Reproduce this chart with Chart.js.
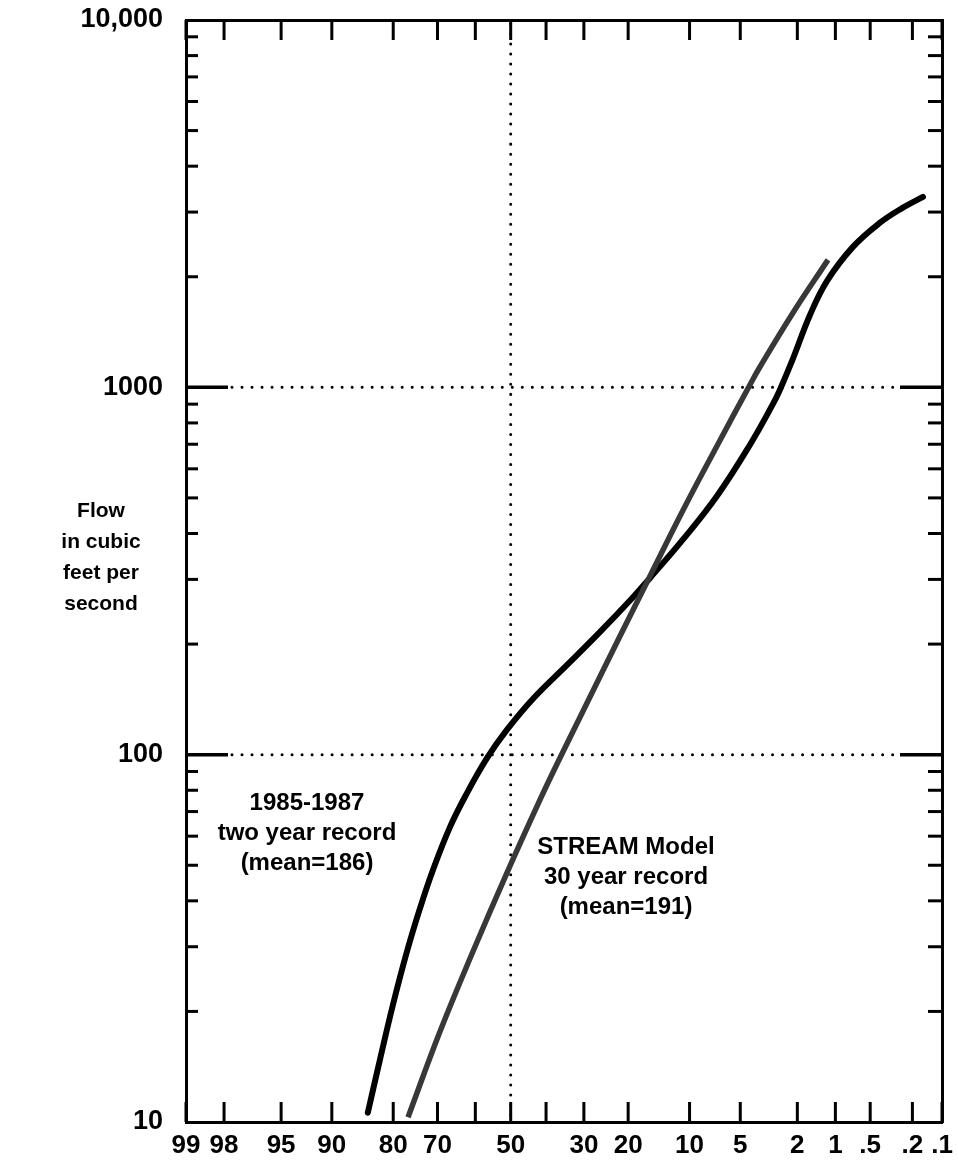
<!DOCTYPE html>
<html>
<head>
<meta charset="utf-8">
<script src="https://cdn.jsdelivr.net/npm/chart.js@4.4.1/dist/chart.umd.min.js"></script>
<style>
  html, body { margin: 0; padding: 0; background: #fff; }
</style>
</head>
<body>
<canvas id="flowChart" width="958" height="1163"></canvas>
<script>
// exceedance probability (%) - labelled ticks and all tick marks
const probLabels = [99, 98, 95, 90, 80, 70, 50, 30, 20, 10, 5, 2, 1, 0.5, 0.2, 0.1];
const probLabelText = ['99', '98', '95', '90', '80', '70', '50', '30', '20', '10', '5', '2', '1', '.5', '.2', '.1'];
const probTicks = [99, 98, 95, 90, 80, 70, 60, 50, 40, 30, 20, 10, 5, 2, 1, 0.5, 0.2, 0.1];

// flow (cfs) axis
const flowLabels = [10, 100, 1000, 10000];
const flowLabelText = ['10', '100', '1000', '10,000'];
const flowMinor = [20, 30, 40, 50, 60, 70, 80, 90, 200, 300, 400, 500, 600, 700, 800, 900,
                   2000, 3000, 4000, 5000, 6000, 7000, 8000, 9000];
const refFlows = [100, 1000];
const refPct = [50];

// 1985-1987 two year record
const recordPct = [84.7, 82.5, 80.0, 77.1, 74.2, 71.1, 66.8, 62.3, 56.7, 51.1, 43.7, 34.3, 26.1,
                   19.0, 15.9, 10.9, 6.97, 4.33, 3.01, 2.69, 2.16, 1.60, 1.17, 0.71, 0.41, 0.25, 0.157];
const recordFlow = [10.6, 14.9, 21.0, 29.2, 38.2, 48.6, 63.6, 78.6, 98.0, 116.8, 141.8, 175.5, 215.9,
                    268.8, 302.8, 384.2, 506.2, 696.9, 901.3, 983.8, 1195, 1574, 1949, 2412, 2802, 3079, 3299];

// STREAM model 30 year record
const modelPct = [76.9, 69.4, 60.6, 51.1, 41.7, 37.0, 30.2, 22.3, 15.9, 10.9, 6.97, 4.33, 3.71, 2.16, 1.15];
const modelFlow = [10.3, 17.6, 29.2, 47.6, 75.3, 94.3, 131.5, 202.7, 306.6, 460.9, 692.6, 1015, 1136, 1594, 2223];

// inverse normal cdf (Acklam) - probability paper transform
function probit(p) {
    const a = [-3.969683028665376e+01, 2.209460984245205e+02, -2.759285104469687e+02, 1.383577518672690e+02, -3.066479806614716e+01, 2.506628277459239e+00];
    const b = [-5.447609879822406e+01, 1.615858368580409e+02, -1.556989798598866e+02, 6.680131188771972e+01, -1.328068155288572e+01];
    const c = [-7.784894002430293e-03, -3.223964580411365e-01, -2.400758277161838e+00, -2.549732539343734e+00, 4.374664141464968e+00, 2.938163982698783e+00];
    const d = [7.784695709041462e-03, 3.224671290700398e-01, 2.445134137142996e+00, 3.754408661907416e+00];
    const pl = 0.02425;
    if (p < pl) {
        const q = Math.sqrt(-2 * Math.log(p));
        return (((((c[0]*q+c[1])*q+c[2])*q+c[3])*q+c[4])*q+c[5]) / ((((d[0]*q+d[1])*q+d[2])*q+d[3])*q+1);
    }
    if (p > 1 - pl) {
        const q = Math.sqrt(-2 * Math.log(1 - p));
        return -(((((c[0]*q+c[1])*q+c[2])*q+c[3])*q+c[4])*q+c[5]) / ((((d[0]*q+d[1])*q+d[2])*q+d[3])*q+1);
    }
    const q = p - 0.5, r = q * q;
    return (((((a[0]*r+a[1])*r+a[2])*r+a[3])*r+a[4])*r+a[5])*q / (((((b[0]*r+b[1])*r+b[2])*r+b[3])*r+b[4])*r+1);
}
const toZ = pct => probit(1 - pct / 100);
const pts = (pcts, flows) => pcts.map((p, i) => ({ x: toZ(p), y: flows[i] }));

const FONT = 'Liberation Sans, Arial, Helvetica, sans-serif';
const xMin = toZ(99), xMax = toZ(0.1);

function seg(ctx, x1, y1, x2, y2) {
    ctx.beginPath();
    ctx.moveTo(x1, y1);
    ctx.lineTo(x2, y2);
    ctx.stroke();
}

const frameMarks = {
    id: 'frameMarks',
    beforeDatasetsDraw(chart) {
        const { ctx, chartArea: a, scales: { x, y } } = chart;
        ctx.save();
        ctx.strokeStyle = '#000';

        // dotted reference lines
        ctx.lineWidth = 3;
        ctx.lineCap = 'round';
        ctx.setLineDash([0.01, 10]);
        refFlows.forEach(v => {
            const py = y.getPixelForValue(v);
            seg(ctx, a.left + 46, py, a.right - 46, py);
        });
        refPct.forEach(p => {
            const px = x.getPixelForValue(toZ(p));
            seg(ctx, px, a.top + 4, px, a.bottom - 4);
        });
        ctx.setLineDash([]);
        ctx.lineCap = 'butt';

        // probability ticks, top and bottom, pointing inward
        ctx.lineWidth = 3;
        probTicks.forEach(p => {
            const px = x.getPixelForValue(toZ(p));
            seg(ctx, px, a.bottom, px, a.bottom - 20);
            seg(ctx, px, a.top, px, a.top + 20);
        });

        // flow ticks
        flowMinor.forEach(v => {
            const py = y.getPixelForValue(v);
            seg(ctx, a.left, py, a.left + 12, py);
            seg(ctx, a.right, py, a.right - 14, py);
        });
        ctx.lineWidth = 3.5;
        refFlows.forEach(v => {
            const py = y.getPixelForValue(v);
            seg(ctx, a.left, py, a.left + 42, py);
            seg(ctx, a.right, py, a.right - 42, py);
        });
        ctx.restore();
    },
    afterDraw(chart) {
        const { ctx } = chart;
        ctx.save();
        ctx.fillStyle = '#000';
        ctx.textAlign = 'center';
        ctx.textBaseline = 'middle';

        ctx.font = 'bold 21px ' + FONT;
        ['Flow', 'in cubic', 'feet per', 'second'].forEach((t, i) => ctx.fillText(t, 101, 511 + i * 31));

        ctx.font = 'bold 24px ' + FONT;
        ['1985-1987', 'two year record', '(mean=186)'].forEach((t, i) => ctx.fillText(t, 307, 803 + i * 30));
        ['STREAM Model', '30 year record', '(mean=191)'].forEach((t, i) => ctx.fillText(t, 626, 847 + i * 30));
        ctx.restore();
    }
};

new Chart(document.getElementById('flowChart'), {
    type: 'line',
    data: {
        datasets: [
            {
                label: 'STREAM Model',
                data: pts(modelPct, modelFlow),
                borderColor: '#383838',
                borderWidth: 5.5,
                pointRadius: 0,
                tension: 0.4
            },
            {
                label: 'STREAM Model core',
                data: pts(modelPct, modelFlow),
                borderColor: '#e6e6e6',
                borderWidth: 2.6,
                borderDash: [2, 1.6],
                pointRadius: 0,
                tension: 0.4
            },
            {
                label: '1985-1987',
                data: pts(recordPct, recordFlow),
                borderColor: '#000',
                borderWidth: 6,
                borderCapStyle: 'round',
                pointRadius: 0,
                tension: 0.4
            }
        ]
    },
    options: {
        responsive: false,
        animation: false,
        layout: { padding: { top: 20, right: 16, left: 0, bottom: 0 } },
        plugins: { legend: { display: false }, tooltip: { enabled: false } },
        scales: {
            x: {
                type: 'linear',
                position: 'bottom',
                min: xMin,
                max: xMax,
                grid: { display: false, drawTicks: false },
                border: { display: true, color: '#000', width: 3 },
                ticks: {
                    autoSkip: false,
                    maxRotation: 0,
                    padding: 8,
                    color: '#000',
                    font: { family: FONT, size: 26, weight: 'bold' },
                    callback: (v, i) => probLabelText[i]
                },
                afterBuildTicks: s => { s.ticks = probLabels.map(p => ({ value: toZ(p) })); },
                afterFit: s => { s.height = 41; s.paddingLeft = 0; s.paddingRight = 0; }
            },
            x2: {
                type: 'linear',
                position: 'top',
                min: xMin,
                max: xMax,
                grid: { display: false, drawTicks: false },
                border: { display: true, color: '#000', width: 3 },
                ticks: { display: false },
                afterFit: s => { s.height = 0; s.paddingLeft = 0; s.paddingRight = 0; }
            },
            y: {
                type: 'logarithmic',
                position: 'left',
                min: 10,
                max: 10000,
                grid: { display: false, drawTicks: false },
                border: { display: true, color: '#000', width: 3 },
                ticks: {
                    autoSkip: false,
                    padding: 23,
                    color: '#000',
                    font: { family: FONT, size: 27, weight: 'bold' },
                    callback: (v, i) => flowLabelText[i]
                },
                afterBuildTicks: s => { s.ticks = flowLabels.map(v => ({ value: v })); },
                afterFit: s => { s.width = 186; s.paddingTop = 0; s.paddingBottom = 0; }
            },
            y2: {
                type: 'logarithmic',
                position: 'right',
                min: 10,
                max: 10000,
                grid: { display: false, drawTicks: false },
                border: { display: true, color: '#000', width: 3 },
                ticks: { display: false },
                afterFit: s => { s.width = 0; s.paddingTop = 0; s.paddingBottom = 0; }
            }
        }
    },
    plugins: [frameMarks]
});
</script>
</body>
</html>
